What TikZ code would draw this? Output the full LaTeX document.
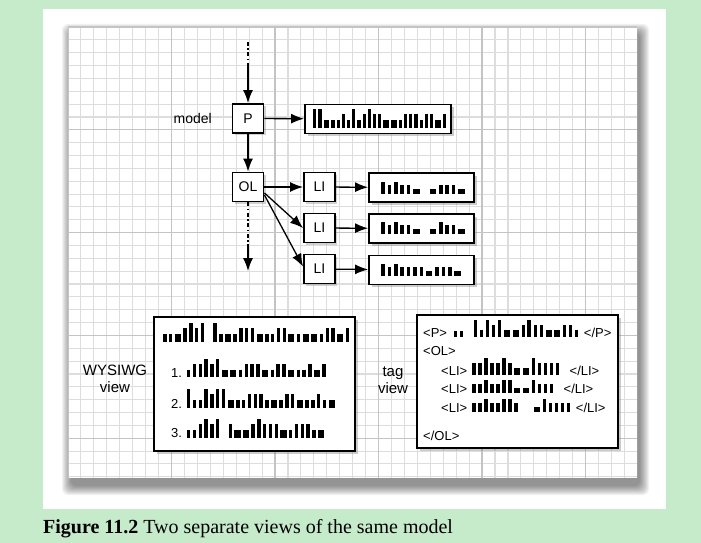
\documentclass[tikz,border=0pt]{standalone}
\usepackage{fontspec}
\setmainfont{Liberation Serif}
\setsansfont{Liberation Sans}
\usetikzlibrary{arrows.meta, shadows}

\definecolor{pagegreen}{HTML}{C6EBCB}
\definecolor{gridminor}{HTML}{DDDDDD}
\definecolor{gridmajor}{HTML}{C4C4C4}

% greeked text: t tall, m middle, s short, w short and wide, g gap
\newlength\barH \newlength\barW \newlength\barG
\newcommand\barset[3]{\setlength\barH{#1pt}\setlength\barW{#2pt}\setlength\barG{#3pt}}
\def\Bt{\vrule width\barW height\barH depth0pt\kern\barG\relax}
\def\Bm{\vrule width\barW height0.72\barH depth0pt\kern\barG\relax}
\def\Bs{\vrule width\barW height0.4\barH depth0pt\kern\barG\relax}
\def\Bw{\vrule width1.8\barW height0.4\barH depth0pt\kern\barG\relax}
\def\Bg{\kern2\barW\relax}
\def\greek#1{\greekloop#1\relax}
\def\greekloop#1{\ifx#1\relax\else\csname B#1\endcsname\expandafter\greekloop\fi}

\tikzset{
	elem/.style={draw, line width=1.9pt, fill=white, minimum width=31pt, minimum height=29pt, inner sep=0pt, font=\sffamily\fontsize{14}{14}\selectfont, drop shadow={opacity=0.35, shadow xshift=2pt, shadow yshift=-2pt}},
	textbox/.style={draw, line width=1.9pt, fill=white, inner sep=0pt, drop shadow={opacity=0.4, shadow xshift=2.5pt, shadow yshift=-2.5pt}},
	arrowlink/.style={line width=1.3pt, -{Latex[length=13pt, width=10pt]}},
	dashlink/.style={line width=1.3pt, dash pattern=on 4pt off 2.5pt on 1.5pt off 2.5pt},
	greeked/.style={anchor=base west, inner sep=0pt},
	tagline/.style={anchor=base west, inner sep=0pt, font=\sffamily\fontsize{13}{13}\selectfont},
	sidelabel/.style={align=center, inner sep=0pt, font=\sffamily\fontsize{15}{17}\selectfont},
}

\begin{document}
\begin{tikzpicture}[x=1pt, y=-1pt]
	\useasboundingbox (0,0) rectangle (701,543);
	% Page, panel and grid paper:
	\fill[pagegreen] (0,0) rectangle (701,543);
	\fill[white] (43,9) rectangle (666,509);
	\foreach \r in {0,1,...,9}
		\fill[black, opacity=0.05, rounded corners=6pt] (71-\r,33-\r) rectangle (640+\r,486+\r);
	\fill[white] (68,27) rectangle (637,478);
	\begin{scope}
		\clip (68,27) rectangle (637,478);
		\foreach \i in {0,...,44} \draw[gridminor, line width=1.1pt] (68+12.94*\i,27) -- ++(0,451);
		\foreach \j in {0,...,35} \draw[gridminor, line width=1.1pt] (68,27+12.85*\j) -- ++(569,0);
		\foreach \i in {0,...,5} \draw[gridmajor, line width=1.1pt] (68+103.5*\i,27) -- ++(0,451);
		\foreach \j in {0,...,4} \draw[gridmajor, line width=1.1pt] (68,27+102.8*\j) -- ++(569,0);
	\end{scope}

	% Model tree:
	\node[elem] (p) at (248,118.5) {P};
	\node[elem] (ol) at (248,187) {OL};
	\node[elem] (li1) at (319.5,187) {LI};
	\node[elem] (li2) at (319.5,228) {LI};
	\node[elem] (li3) at (319.5,269) {LI};
	\node[sidelabel, anchor=east, font=\sffamily\fontsize{14}{14}\selectfont] (model) at (212,118.5) {model};
	\node[textbox, minimum width=146pt, minimum height=29pt] (ptext) at (378,119) {};
	\node[textbox, minimum width=105pt, minimum height=29pt] (litext1) at (421.5,187.5) {};
	\node[textbox, minimum width=105pt, minimum height=29pt] (litext2) at (421.5,228.5) {};
	\node[textbox, minimum width=105pt, minimum height=29pt] (litext3) at (421.5,270) {};
	\node[greeked] (pbars) at (313,128) {\barset{19}{3.2}{2}\greek{ttwssmstsmtmmwwsmmmsmmwm}};
	\node[greeked] (libars1) at (381,193.5) {\barset{12}{3.6}{2.8}\greek{tmtmmwgwmmmw}};
	\node[greeked] (libars2) at (381,234) {\barset{12}{3.6}{2.8}\greek{tmtmmwgwtmmw}};
	\node[greeked] (libars3) at (381,276) {\barset{12}{3.6}{2.8}\greek{tmtmmmmwmmmw}};

	\coordinate (topin) at (248,42);
	\coordinate (topsolid) at (248,64);
	\coordinate (bottomdash) at (248,244);
	\coordinate (bottomout) at (248,271);
	\draw[dashlink] (topin) -- (topsolid);
	\draw[arrowlink] (topsolid) -- (p);
	\draw[arrowlink] (p) -- (ol);
	\draw[arrowlink] (p) -- (ptext);
	\draw[arrowlink] (ol) -- (li1);
	\draw[arrowlink] (ol.-20) -- (li2.west);
	\draw[arrowlink] (ol.-26) -- (li3.172);
	\draw[arrowlink] (li1) -- (litext1);
	\draw[arrowlink] (li2) -- (litext2);
	\draw[arrowlink] (li3) -- (litext3);
	\draw[dashlink] (ol) -- (bottomdash);
	\draw[arrowlink] (bottomdash) -- (bottomout);

	% WYSIWYG view:
	\node[textbox, minimum width=201pt, minimum height=134pt] (wysiwyg) at (254.5,384) {};
	\node[sidelabel] (wysiwyglabel) at (115,378.5) {WYSIWG\\view};
	\node[greeked] (wline0) at (163,342) {\barset{19}{3.4}{2.4}\greek{sswmtmtgtswsmmmwssmmwswwsmmwm}};
	\node[tagline] (wline1) at (171,377) {1.\hspace{5pt}\barset{18}{3.4}{2.4}\greek{smmtmtwwsmmmwsmmwssmwm}};
	\node[tagline] (wline2) at (171,408) {2.\hspace{5pt}\barset{19}{3.4}{2.4}\greek{tsstmttwssmmmswsmmwssmsw}};
	\node[tagline] (wline3) at (171,437.5) {3.\hspace{5pt}\barset{19}{3.4}{2.4}\greek{ssmtmtgmwwmtmmmwsmmmsw}};

	% tag view:
	\node[textbox, minimum width=201pt, minimum height=133pt] (tags) at (517.5,381.5) {};
	\node[sidelabel] (taglabel) at (393,380) {tag\\view};
	\node[tagline] (tagp) at (423,337) {<P>\hspace{7pt}\barset{9}{3.4}{2.6}\greek{mm}\hspace{8pt}\barset{17}{3.4}{2.6}\greek{tstmtwwmtmmwwmms}\hspace{3pt}</P>};
	\node[tagline] (tagol) at (423,355) {<OL>};
	\node[tagline] (tagli1) at (441,375) {<LI>\hspace{5pt}\barset{17}{3.4}{2.6}\greek{mmtmmtmwwtmmmm}\hspace{8pt}</LI>};
	\node[tagline] (tagli2) at (441,393) {<LI>\hspace{5pt}\barset{13}{3.4}{2.6}\greek{mmtmmttwwtmmm}\hspace{8pt}</LI>};
	\node[tagline] (tagli3) at (441,412) {<LI>\hspace{5pt}\barset{13}{3.4}{2.6}\greek{mmtmmttm}\hspace{14pt}\greek{wtmmmm}\hspace{3pt}</LI>};
	\node[tagline] (tagolend) at (423,440) {</OL>};

	% Caption:
	\node[anchor=base west, inner sep=0pt, font=\fontsize{20}{24}\selectfont] (caption) at (43,533.5) {\textbf{Figure 11.2} Two separate views of the same model};
\end{tikzpicture}
\end{document}
